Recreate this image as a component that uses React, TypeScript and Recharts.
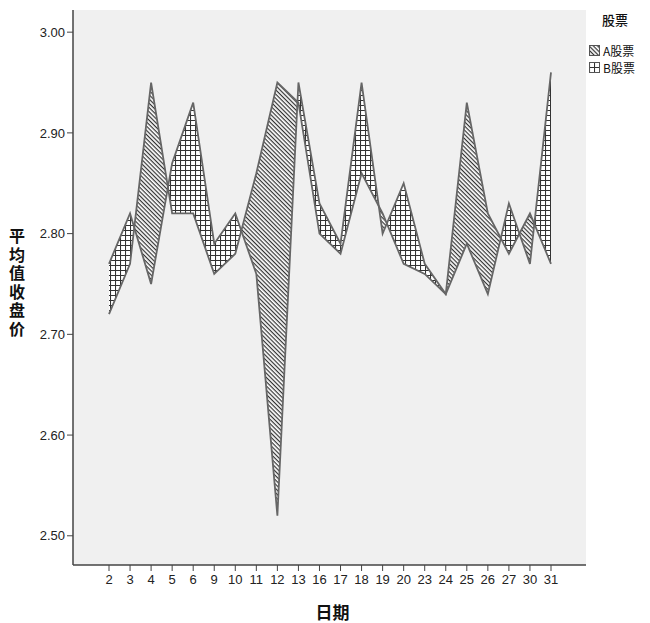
import { ComposedChart, Area, Line, XAxis, YAxis, CartesianGrid } from "recharts";

// 日期 (trading days)
const dates = [
    "2", "3", "4", "5", "6", "9", "10", "11", "12", "13", "16",
    "17", "18", "19", "20", "23", "24", "25", "26", "27", "30", "31",
];

// 平均值收盘价
const stockA = [
    2.72, 2.77, 2.95, 2.82, 2.82, 2.76, 2.78, 2.86, 2.95, 2.93, 2.80,
    2.78, 2.86, 2.82, 2.77, 2.76, 2.74, 2.93, 2.82, 2.78, 2.82, 2.77,
];
const stockB = [
    2.77, 2.82, 2.75, 2.87, 2.93, 2.79, 2.82, 2.76, 2.52, 2.95, 2.83,
    2.79, 2.95, 2.80, 2.85, 2.77, 2.74, 2.79, 2.74, 2.83, 2.77, 2.96,
];

const yTicks = [2.5, 2.6, 2.7, 2.8, 2.9, 3.0];

const data = dates.map((date, i) => ({ date, a: stockA[i], b: stockB[i] }));

const tickStyle = { fontSize: 13, fill: "#222", fontFamily: "'Liberation Sans', Arial, sans-serif" };
const cjk = "'Noto Sans CJK SC', 'Noto Sans', sans-serif";

// a line's dot callback receives the line's own pixel points; on the first
// dot we use them to emit a clip region "below this line"
function clipBelow(clipId: string) {
    return (props: any) => {
        const { index, points } = props;
        if (index !== 0 || !points || !points.length) {
            return <g key={`${clipId}-${index}`} />;
        }
        const first = points[0];
        const last = points[points.length - 1];
        const pts = points.map((p: any) => `${p.x},${p.y}`);
        pts.push(`${last.x},${last.y + 3000}`, `${first.x},${first.y + 3000}`);
        return (
            <clipPath key={`${clipId}-${index}`} id={clipId}>
                <polygon points={pts.join(" ")} />
            </clipPath>
        );
    };
}

function Swatch({ fill }: { fill: string }) {
    return (
        <svg width={11} height={11} style={{ display: "block" }}>
            <rect x={0.5} y={0.5} width={10} height={10} fill={`url(#${fill})`} stroke="#555" />
        </svg>
    );
}

export default function App() {
    return (
        <div style={{ position: "relative", width: 650, height: 623, background: "#fff" }}>
            <style>{`
                body { margin: 0; }
                .band-a { clip-path: url(#belowA); }
                .band-b { clip-path: url(#belowB); }
            `}</style>

            <ComposedChart
                width={650}
                height={623}
                data={data}
                margin={{ top: 10, right: 64, bottom: 0, left: 0 }}
            >
                <defs>
                    <pattern id="hatchA" width="3" height="3" patternUnits="userSpaceOnUse" patternTransform="rotate(45)">
                        <rect width="3" height="3" fill="#fff" />
                        <line x1="0" y1="0.6" x2="3" y2="0.6" stroke="#333" strokeWidth="1.2" />
                    </pattern>
                    <pattern id="gridB" width="5" height="5" patternUnits="userSpaceOnUse">
                        <rect width="5" height="5" fill="#fff" />
                        <path d="M0 0.5H5M0.5 0V5" stroke="#333" strokeWidth="1.1" />
                    </pattern>
                </defs>

                <CartesianGrid horizontal={false} vertical={false} fill="#f0f0f0" />

                <XAxis
                    dataKey="date"
                    height={58}
                    padding={{ left: 36, right: 35 }}
                    tick={tickStyle}
                    tickSize={6}
                    tickMargin={4}
                    interval={0}
                    axisLine={{ stroke: "#444", strokeWidth: 1.5 }}
                    tickLine={{ stroke: "#444" }}
                />
                <XAxis
                    xAxisId="top"
                    orientation="top"
                    dataKey="date"
                    height={0}
                    tick={false}
                    tickLine={false}
                    axisLine={{ stroke: "#999" }}
                />
                <YAxis
                    width={73}
                    domain={[2.471, 3.022]}
                    ticks={yTicks}
                    allowDataOverflow
                    tickFormatter={(v) => Number(v).toFixed(2)}
                    tick={tickStyle}
                    tickSize={6}
                    tickMargin={2}
                    axisLine={{ stroke: "#444", strokeWidth: 1.5 }}
                    tickLine={{ stroke: "#444" }}
                />
                <YAxis
                    yAxisId="right"
                    orientation="right"
                    width={0}
                    domain={[2.471, 3.022]}
                    tick={false}
                    tickLine={false}
                    axisLine={{ stroke: "#999" }}
                />

                <Area
                    className="band-a"
                    name="A股票"
                    dataKey={(d: any) => [d.b, d.a]}
                    type="linear"
                    fill="url(#hatchA)"
                    fillOpacity={1}
                    stroke="none"
                    isAnimationActive={false}
                    activeDot={false}
                />
                <Area
                    className="band-b"
                    name="B股票"
                    dataKey={(d: any) => [d.a, d.b]}
                    type="linear"
                    fill="url(#gridB)"
                    fillOpacity={1}
                    stroke="none"
                    isAnimationActive={false}
                    activeDot={false}
                />

                <Line
                    dataKey="a"
                    type="linear"
                    stroke="#666"
                    strokeWidth={1.8}
                    dot={clipBelow("belowA")}
                    activeDot={false}
                    isAnimationActive={false}
                />
                <Line
                    dataKey="b"
                    type="linear"
                    stroke="#666"
                    strokeWidth={1.8}
                    dot={clipBelow("belowB")}
                    activeDot={false}
                    isAnimationActive={false}
                />
            </ComposedChart>

            {/* y axis title, stacked upright */}
            <div
                style={{
                    position: "absolute",
                    left: 7,
                    top: 228,
                    width: 20,
                    writingMode: "vertical-rl",
                    textOrientation: "upright",
                    letterSpacing: 2.5,
                    fontFamily: cjk,
                    fontWeight: 700,
                    fontSize: 16,
                    lineHeight: "20px",
                    color: "#111",
                }}
            >
                平均值收盘价
            </div>

            {/* x axis title */}
            <div
                style={{
                    position: "absolute",
                    left: 0,
                    width: 665,
                    top: 603,
                    height: 18,
                    lineHeight: "18px",
                    textAlign: "center",
                    fontFamily: cjk,
                    fontWeight: 700,
                    fontSize: 17,
                    color: "#111",
                }}
            >
                日期
            </div>

            {/* legend */}
            <div style={{ position: "absolute", left: 589, top: 12, fontFamily: cjk, color: "#111" }}>
                <div style={{ fontSize: 13, lineHeight: "16px", marginLeft: 13, marginBottom: 14, fontWeight: 500 }}>股票</div>
                <div style={{ display: "flex", alignItems: "center", gap: 3, fontSize: 12, height: 17 }}>
                    <Swatch fill="hatchA" />
                    <span>A股票</span>
                </div>
                <div style={{ display: "flex", alignItems: "center", gap: 3, fontSize: 12, height: 17 }}>
                    <Swatch fill="gridB" />
                    <span>B股票</span>
                </div>
            </div>
        </div>
    );
}
